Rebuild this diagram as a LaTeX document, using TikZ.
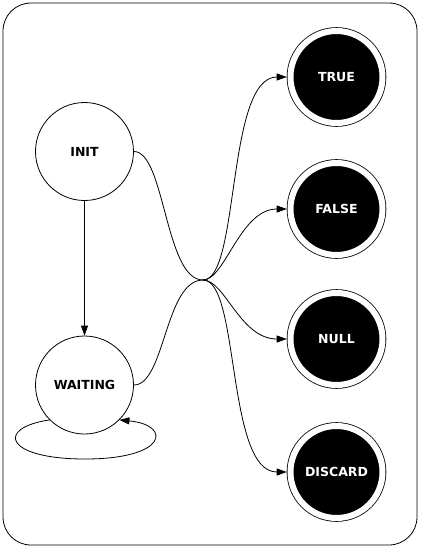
\documentclass[tikz,border=0pt]{standalone}
\usepackage{fontspec}
\setmainfont{DejaVu Sans}
\usepackage{tikz}
\usetikzlibrary{arrows.meta}
\tikzset{
	state/.style={circle, fill=white, line width=0.8pt, draw=black, minimum size=98pt, inner sep=0pt, font=\bfseries\fontsize{12.5}{14}\selectfont},
	final/.style={circle, fill=black, line width=0.8pt, draw=black, double=white, double distance=6pt, minimum size=92pt, inner sep=0pt, outer sep=3.8pt, text=white, font=\bfseries\fontsize{12.5}{14}\selectfont}
}
\begin{document}
\begin{tikzpicture}[x=1pt, y=-1pt, >={Triangle[length=10pt,width=7pt]}]
		\useasboundingbox (0,0) rectangle (423,549);
		\draw[line width=0.8pt, rounded corners=28pt] (3,3) rectangle (417,545);
		\node[state](init)       at (84.5,151.5){INIT};
		\node[state](waiting)    at (84.5,385)  {WAITING};
		\node[final](true)       at (336.5,77)  {TRUE};
		\node[final](false)      at (336.5,209) {FALSE};
		\node[final](null)       at (336.5,339) {NULL};
		\node[final](discard)    at (336.5,472) {DISCARD};
		\coordinate (hub) at (203,280);
		\draw [->, line width=0.8pt] (init) -- (waiting);
		\draw [->, line width=0.8pt] (waiting.225) .. controls (-5,428) and (5,459) .. (85,459) .. controls (168,459) and (172,425) .. (waiting.-45);
		\draw [line width=0.8pt] (init.east) .. controls (165,151.5) and (165,280) .. (hub);
		\draw [line width=0.8pt] (waiting.east) .. controls (165,385) and (165,280) .. (hub);
		\draw [->, line width=0.8pt] (hub) .. controls (240,280) and (226,77) .. (true.west);
		\draw [->, line width=0.8pt] (hub) .. controls (225,280) and (240,209) .. (false.west);
		\draw [->, line width=0.8pt] (hub) .. controls (225,280) and (240,339) .. (null.west);
		\draw [->, line width=0.8pt] (hub) .. controls (240,280) and (226,472) .. (discard.west);
	\end{tikzpicture}
\end{document}
